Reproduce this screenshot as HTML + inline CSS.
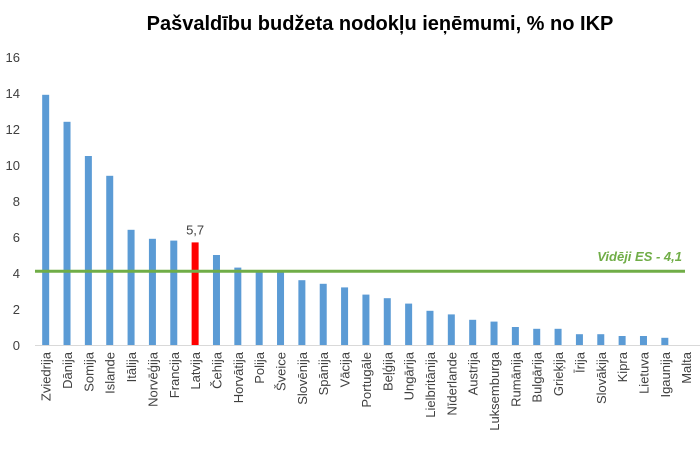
<!DOCTYPE html>
<html><head><meta charset="utf-8"><style>
body{margin:0;background:#fff;}
svg{display:block;font-family:"Liberation Sans",sans-serif;}
</style></head><body>
<svg id="c" width="700" height="452">
<text x="380" y="30" text-anchor="middle" font-size="20" font-weight="bold" fill="#000">Pašvaldību budžeta nodokļu ieņēmumi, % no IKP</text>
</svg>
<script>
const categories=["Zviedrija","Dānija","Somija","Islande","Itālija","Norvēģija","Francija","Latvija","Čehija","Horvātija","Polija","Šveice","Slovēnija","Spānija","Vācija","Portugāle","Beļģija","Ungārija","Lielbritānija","Nīderlande","Austrija","Luksemburga","Rumānija","Bulgārija","Grieķija","Īrija","Slovākija","Kipra","Lietuva","Igaunija","Malta"];
const values=[13.9,12.4,10.5,9.4,6.4,5.9,5.8,5.7,5.0,4.3,4.1,4.1,3.6,3.4,3.2,2.8,2.6,2.3,1.9,1.7,1.4,1.3,1.0,0.9,0.9,0.6,0.6,0.5,0.5,0.4,0.0];
const yTicks=[0,2,4,6,8,10,12,14,16];
const average=4.1;
const highlight="Latvija";
const svg=document.getElementById('c');
const NS="http://www.w3.org/2000/svg";
const x0=35,step=21.35,y0=345,pxPerUnit=18;
const y=v=>y0-v*pxPerUnit;
const xc=i=>x0+step*(i+0.5);
function mk(t,a){const e=document.createElementNS(NS,t);for(const k in a)e.setAttribute(k,a[k]);svg.appendChild(e);return e;}
yTicks.forEach(t=>{
 const e=mk('text',{x:20,y:y(t)+5,'text-anchor':'end','font-size':13,fill:'#404040'});
 e.textContent=t;
 
 
});
const ax=mk('line',{x1:x0,x2:700,y1:y0+0.5,y2:y0+0.5,stroke:'#d9d9d9','stroke-width':1});


categories.forEach((c,i)=>{
 const v=values[i];
 const r=mk('rect',{x:xc(i)-3.5,y:y(v),width:7,height:v*pxPerUnit,fill:c===highlight?'#ff0000':'#5b9bd5'});
 
 
 const t=mk('text',{transform:`translate(${xc(i)+5},352) rotate(-90)`,'text-anchor':'end','font-size':13,fill:'#404040'});
 t.textContent=c;
 
 
 if(c===highlight){
  const l=mk('text',{x:xc(i),y:y(v)-8,'text-anchor':'middle','font-size':13,fill:'#404040'});
  l.textContent=v.toFixed(1).replace('.',',');
  
  
 }
});
const al=mk('line',{x1:x0,x2:685,y1:y(average),y2:y(average),stroke:'#70ad47','stroke-width':3});


const at=mk('text',{x:682,y:y(average)-10,'text-anchor':'end','font-size':13,'font-weight':'bold','font-style':'italic',fill:'#70ad47'});
at.textContent='Vidēji ES  - '+average.toFixed(1).replace('.',',');


</script>
</body></html>
